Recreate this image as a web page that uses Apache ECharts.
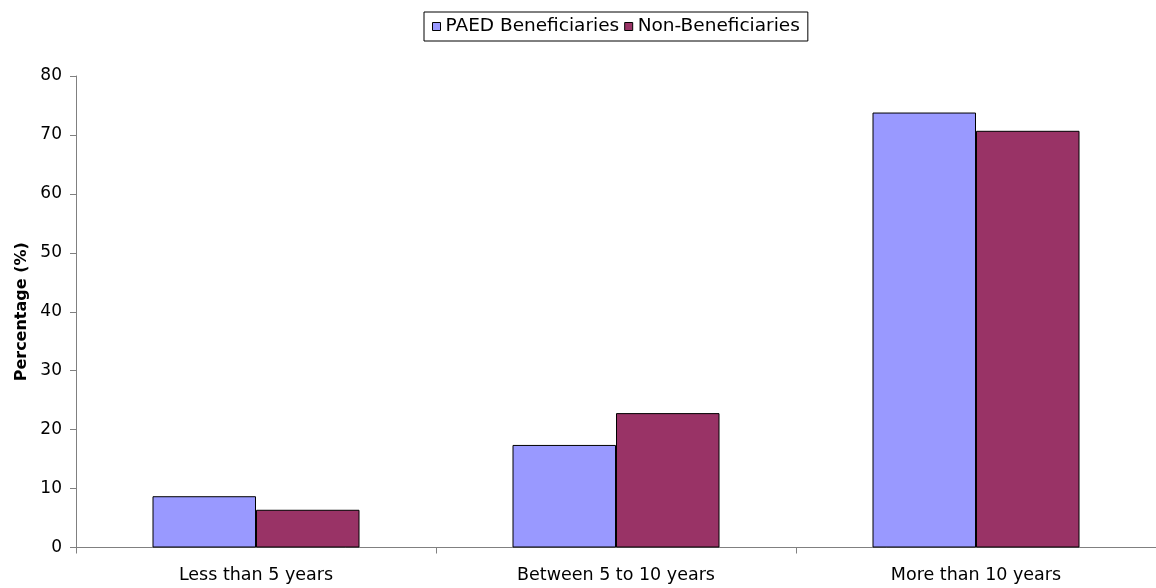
<!DOCTYPE html>
<html>
<head>
<meta charset="utf-8">
<style>
  html, body { margin: 0; padding: 0; background: #fff; }
  #chart { width: 1156px; height: 588px; }
</style>
<script src="https://cdn.jsdelivr.net/npm/echarts@6/dist/echarts.min.js"></script>
</head>
<body>
<div id="chart"></div>
<script>
// Years of residence, by group
const categories = ['Less than 5 years', 'Between 5 to 10 years', 'More than 10 years'];
const beneficiaries = [8.7, 17.4, 73.8];
const nonBeneficiaries = [6.4, 22.8, 70.7];
const seriesNames = ['PAED Beneficiaries', 'Non-Beneficiaries'];

const FONT = '"DejaVu Sans", "Liberation Sans", Arial, sans-serif';
const chart = echarts.init(document.getElementById('chart'));

chart.setOption({
  animation: false,
  backgroundColor: '#ffffff',
  textStyle: { fontFamily: FONT },
  legend: {
    left: 424,
    top: 12,
    itemWidth: 8,
    itemHeight: 8,
    itemGap: 5,
    padding: [5, 8, 5, 8],
    borderColor: '#000',
    borderWidth: 1,
    icon: 'rect',
    itemStyle: { borderColor: '#000', borderWidth: 1 },
    textStyle: { fontSize: 18.5, lineHeight: 18, color: '#000', fontFamily: FONT },
    data: seriesNames
  },
  grid: { left: 76, right: 0, top: 76, bottom: 40.5, outerBoundsMode: 'none', containLabel: false },
  xAxis: {
    type: 'category',
    data: categories,
    boundaryGap: true,
    axisLine: { lineStyle: { color: '#808080', width: 1 } },
    axisTick: { show: true, length: 6, lineStyle: { color: '#808080' } },
    axisLabel: { fontSize: 17.5, color: '#000', margin: 19, fontFamily: FONT }
  },
  yAxis: {
    type: 'value',
    min: 0,
    max: 80,
    interval: 10,
    name: 'Percentage (%)',
    nameLocation: 'middle',
    nameGap: 46,
    nameTextStyle: { fontSize: 16, fontWeight: 'bold', color: '#000', fontFamily: FONT },
    axisLine: { show: true, lineStyle: { color: '#808080', width: 1 } },
    axisTick: { show: true, length: 6, lineStyle: { color: '#808080' } },
    splitLine: { show: false },
    axisLabel: { fontSize: 17, color: '#000', margin: 14, fontFamily: FONT }
  },
  series: [
    {
      name: seriesNames[0],
      type: 'bar',
      data: beneficiaries,
      barGap: '0%',
      barCategoryGap: '42.5%',
      itemStyle: { color: '#9999FF', borderColor: '#000', borderWidth: 1 }
    },
    {
      name: seriesNames[1],
      type: 'bar',
      data: nonBeneficiaries,
      barGap: '0%',
      barCategoryGap: '42.5%',
      itemStyle: { color: '#993366', borderColor: '#000', borderWidth: 1 }
    }
  ]
});
</script>
</body>
</html>
